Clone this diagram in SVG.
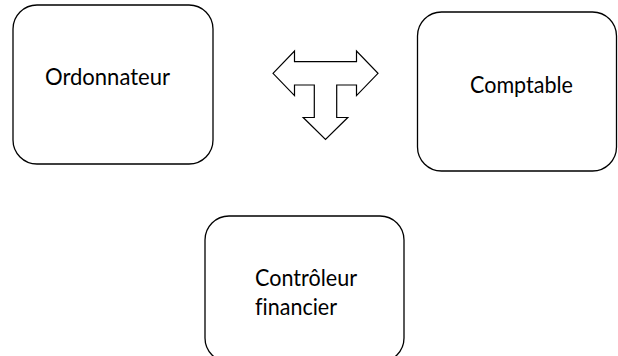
<svg xmlns="http://www.w3.org/2000/svg" width="618" height="356" viewBox="0 0 618 356">
<style>
.box{fill:#fff;stroke:#000;stroke-width:1.3}
.lbl{font-family:Lato,"Open Sans","Liberation Sans",sans-serif;font-size:22.5px;fill:#000;font-variant-ligatures:none;font-feature-settings:"liga" 0}
.arr{fill:#fff;stroke:#000;stroke-width:1.2;stroke-linejoin:miter}
</style>
<rect width="618" height="356" fill="#fff"/>
<g id="ordonnateur">
<rect class="box" x="13" y="5" width="200" height="159" rx="24" ry="24"/>
<text class="lbl" x="45" y="85" textLength="125" lengthAdjust="spacingAndGlyphs">Ordonnateur</text>
</g>
<g id="comptable">
<rect class="box" x="417.5" y="12" width="199" height="159" rx="24" ry="24"/>
<text class="lbl" x="470" y="93" textLength="103" lengthAdjust="spacingAndGlyphs">Comptable</text>
</g>
<g id="controleur">
<rect class="box" x="205" y="216" width="199" height="146" rx="24" ry="24"/>
<text class="lbl" x="255" y="286" textLength="102" lengthAdjust="spacingAndGlyphs">Contrôleur</text>
<text class="lbl" x="255" y="315" textLength="82" lengthAdjust="spacingAndGlyphs">financier</text>
</g>
<g id="connectors">
<polygon class="arr" points="273,73.3 294.5,51 294.5,61.7 356.5,61.7 356.5,51 378,73.3 356.5,95.6 356.5,85 336.7,85 336.7,117.5 347.8,117.5 325.5,139.5 303.2,117.5 314.3,117.5 314.3,85 294.5,85 294.5,95.6"/>
</g>
</svg>
